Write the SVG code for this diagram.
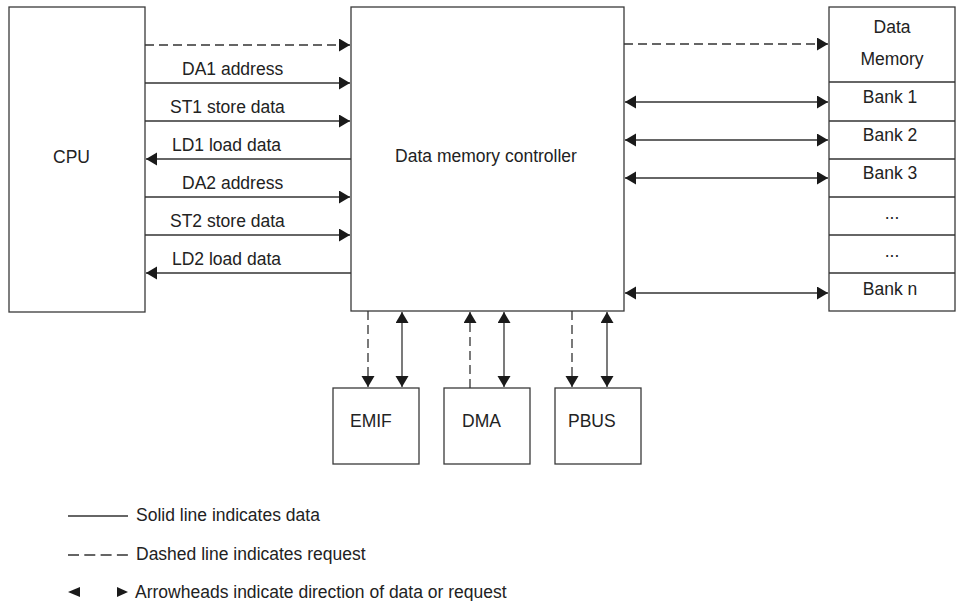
<svg xmlns="http://www.w3.org/2000/svg" width="956" height="601" viewBox="0 0 956 601">
<defs>
<style>
.box{fill:#fff;stroke:#3a3a3a;stroke-width:1.3}
.ln{fill:none;stroke:#333;stroke-width:1.3}
.dash{stroke-dasharray:9,5}
text{font-family:"Liberation Sans",Arial,sans-serif;font-size:17.5px;fill:#222}
.mid{text-anchor:middle}
</style>
<marker id="ah" markerUnits="userSpaceOnUse" markerWidth="12" markerHeight="14" refX="11" refY="6.5" orient="auto-start-reverse" viewBox="0 0 12 14">
<path d="M0,0 L11,6.5 L0,13 z" fill="#1a1a1a" stroke="none"/>
</marker>
</defs>
<rect width="956" height="601" fill="#fff"/>

<g id="cpu">
<rect class="box" x="9" y="7" width="136" height="305"/>
<text x="53" y="163">CPU</text>
</g>

<g id="controller">
<rect class="box" x="351" y="7" width="273" height="304"/>
<text class="mid" x="486" y="162">Data memory controller</text>
</g>

<g id="data-memory">
<rect class="box" x="829" y="7" width="126" height="304"/>
<line class="ln" x1="829" y1="82" x2="955" y2="82"/>
<line class="ln" x1="829" y1="121" x2="955" y2="121"/>
<line class="ln" x1="829" y1="159" x2="955" y2="159"/>
<line class="ln" x1="829" y1="197" x2="955" y2="197"/>
<line class="ln" x1="829" y1="235" x2="955" y2="235"/>
<line class="ln" x1="829" y1="273" x2="955" y2="273"/>
<text class="mid" x="892" y="33">Data</text>
<text class="mid" x="892" y="65">Memory</text>
<text class="mid" x="890" y="103">Bank 1</text>
<text class="mid" x="890" y="141">Bank 2</text>
<text class="mid" x="890" y="179">Bank 3</text>
<text class="mid" x="892" y="219">...</text>
<text class="mid" x="892" y="257">...</text>
<text class="mid" x="890" y="295">Bank n</text>
</g>

<g id="emif">
<rect class="box" x="333" y="388" width="86" height="76"/>
<text x="350" y="427">EMIF</text>
</g>
<g id="dma">
<rect class="box" x="444" y="388" width="86" height="76"/>
<text x="462" y="427">DMA</text>
</g>
<g id="pbus">
<rect class="box" x="555" y="388" width="86" height="76"/>
<text x="568" y="427">PBUS</text>
</g>

<g id="connectors">
<line class="ln dash" x1="145" y1="45" x2="350" y2="45" marker-end="url(#ah)"/>
<line class="ln" x1="145" y1="83" x2="350" y2="83" marker-end="url(#ah)"/>
<line class="ln" x1="145" y1="121" x2="350" y2="121" marker-end="url(#ah)"/>
<line class="ln" x1="351" y1="159" x2="146" y2="159" marker-end="url(#ah)"/>
<line class="ln" x1="145" y1="197" x2="350" y2="197" marker-end="url(#ah)"/>
<line class="ln" x1="145" y1="235" x2="350" y2="235" marker-end="url(#ah)"/>
<line class="ln" x1="351" y1="273" x2="146" y2="273" marker-end="url(#ah)"/>
<text x="182" y="75">DA1 address</text>
<text x="170" y="113">ST1 store data</text>
<text x="172" y="151">LD1 load data</text>
<text x="182" y="189">DA2 address</text>
<text x="170" y="227">ST2 store data</text>
<text x="172" y="265">LD2 load data</text>

<line class="ln dash" x1="624" y1="44" x2="828" y2="44" marker-end="url(#ah)"/>
<line class="ln" x1="625" y1="102" x2="828" y2="102" marker-start="url(#ah)" marker-end="url(#ah)"/>
<line class="ln" x1="625" y1="140" x2="828" y2="140" marker-start="url(#ah)" marker-end="url(#ah)"/>
<line class="ln" x1="625" y1="178" x2="828" y2="178" marker-start="url(#ah)" marker-end="url(#ah)"/>
<line class="ln" x1="625" y1="293" x2="828" y2="293" marker-start="url(#ah)" marker-end="url(#ah)"/>

<line class="ln dash" x1="368" y1="311" x2="368" y2="387" marker-end="url(#ah)"/>
<line class="ln" x1="402" y1="312" x2="402" y2="387" marker-start="url(#ah)" marker-end="url(#ah)"/>
<line class="ln dash" x1="470" y1="388" x2="470" y2="312" marker-end="url(#ah)"/>
<line class="ln" x1="504" y1="312" x2="504" y2="387" marker-start="url(#ah)" marker-end="url(#ah)"/>
<line class="ln dash" x1="572" y1="311" x2="572" y2="387" marker-end="url(#ah)"/>
<line class="ln" x1="607" y1="312" x2="607" y2="387" marker-start="url(#ah)" marker-end="url(#ah)"/>
</g>

<g id="legend">
<line class="ln" x1="68" y1="516" x2="128" y2="516"/>
<text x="136" y="521">Solid line indicates data</text>
<line class="ln" x1="68" y1="555" x2="128" y2="555" stroke-dasharray="11,5.3"/>
<text x="136" y="560">Dashed line indicates request</text>
<path d="M68,592 L80,587 L80,597 z" fill="#1a1a1a"/>
<path d="M128,592 L117,587 L117,597 z" fill="#1a1a1a"/>
<text x="135" y="598">Arrowheads indicate direction of data or request</text>
</g>
</svg>
